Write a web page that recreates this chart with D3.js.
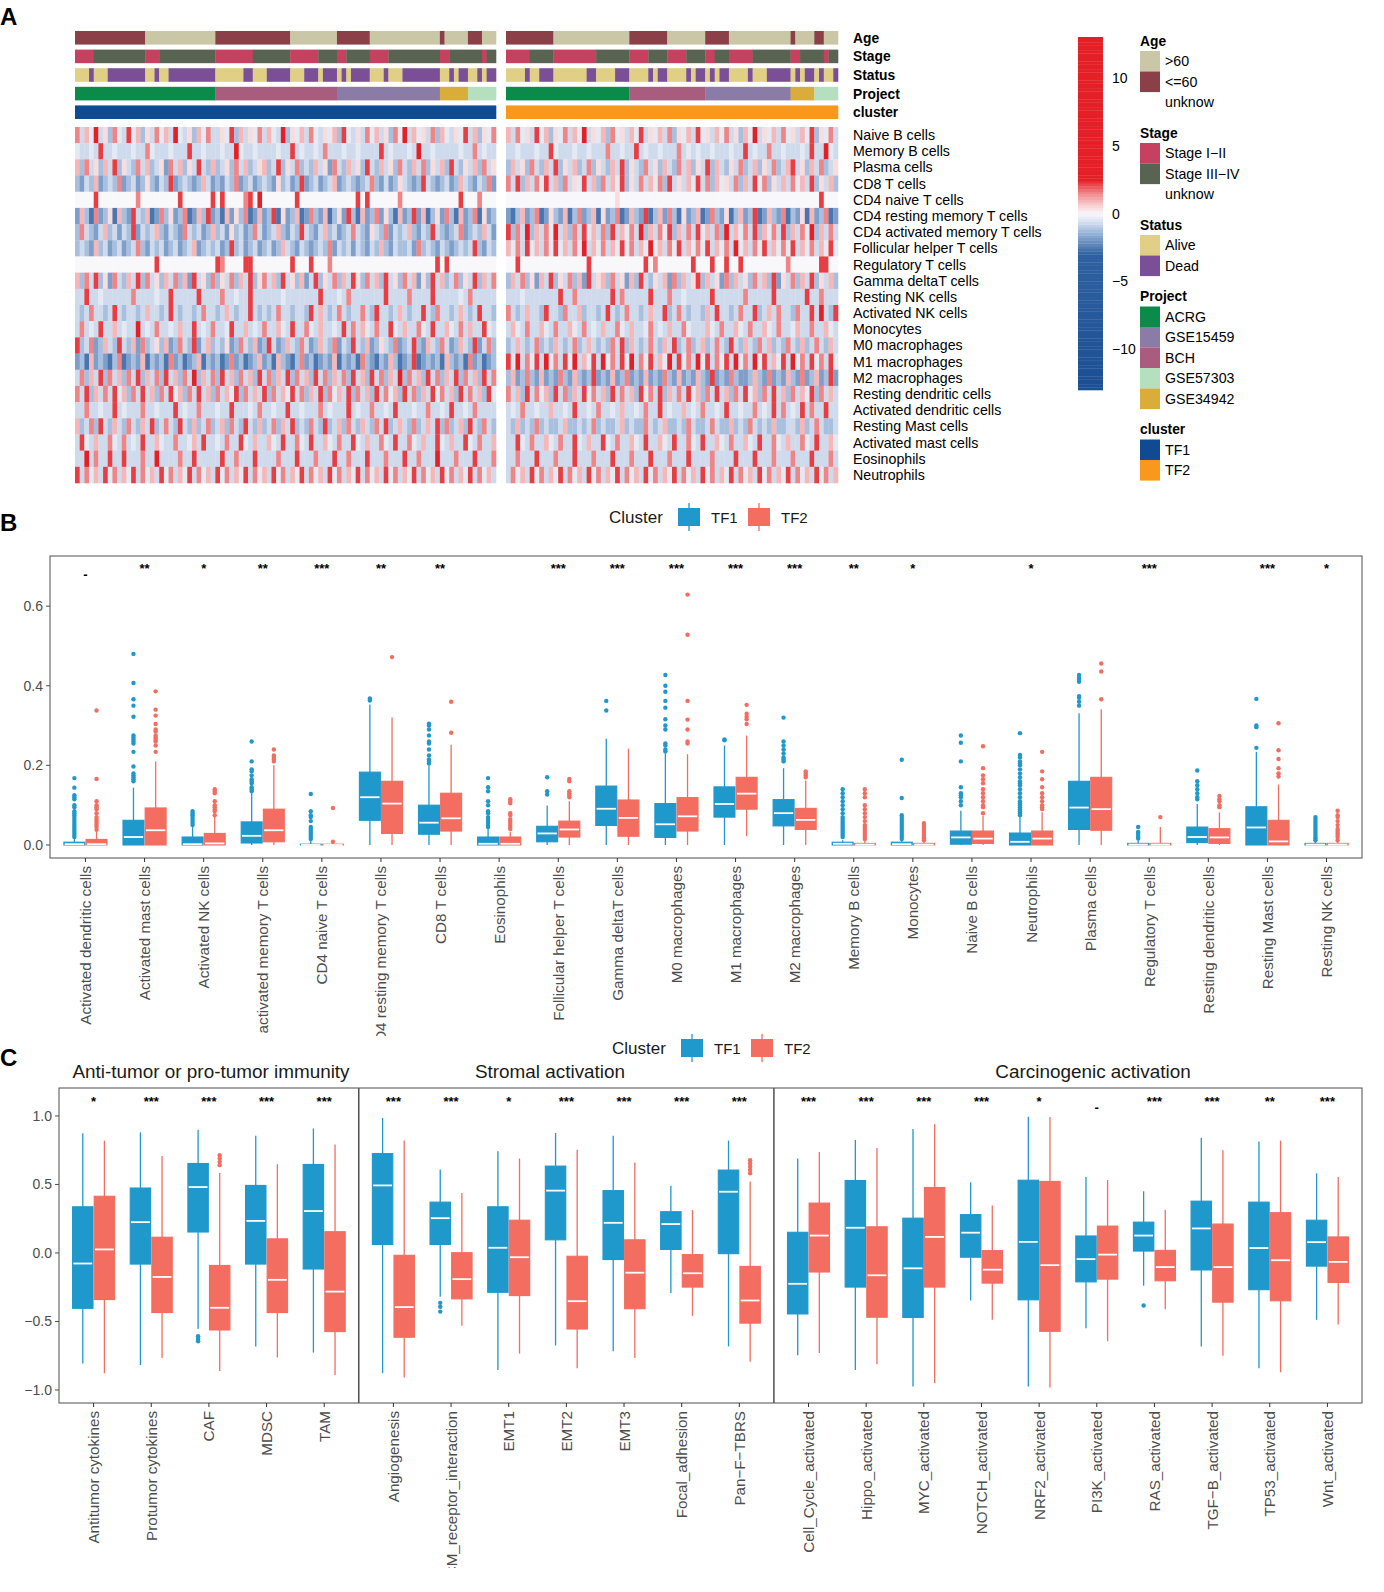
<!DOCTYPE html>
<html><head><meta charset="utf-8">
<script src="https://cdn.jsdelivr.net/npm/d3@7"></script>
<style>body{margin:0;background:#fff}svg{display:block}text{font-family:"Liberation Sans",Arial,sans-serif}</style>
</head><body><svg id="chart" width="1384" height="1592"></svg>
<script>
// ================= DATA =================
// --- Panel A heatmap: rows, and per-sample levels (estimated), TF1 block (90 cols) and TF2 block (70 cols)
const hmRows = ["Naive B cells","Memory B cells","Plasma cells","CD8 T cells","CD4 naive T cells","CD4 resting memory T cells","CD4 activated memory T cells","Follicular helper T cells","Regulatory T cells","Gamma deltaT cells","Resting NK cells","Activated NK cells","Monocytes","M0 macrophages","M1 macrophages","M2 macrophages","Resting dendritic cells","Activated dendritic cells","Resting Mast cells","Activated mast cells","Eosinophils","Neutrophils"];
// level codes: '.'=0, a..e = increasingly negative, 1..5 = increasingly positive
const levelValue = {'.':0,'a':-0.35,'b':-0.7,'c':-1.2,'d':-1.8,'e':-2.6,'1':0.4,'2':0.9,'3':1.5,'4':2.2,'5':3.5};
const hmLeft = [
"3b2a5b1c3a b4a2c1b3a2 b5ab1c2a3b b1a4c2b1a3 b2ab5c1a2b 3ab1a2c4ab 1b3a2b1c3a 5b2a1b3c2a b1a4b2c1a3",
"abbab4bbab bbabb3abbb abbb4bbabb babb5abbab bbbabb4bab bab3bbbabb abbbb4babb bab5bbabbb bbabb3babb",
"2c3b1c2b4c 1bc3b2cb1d 3b2c1b4bc2 cb1c3b2cb1 2cb4c1b3cb c2b1d3bc2b 1c4bc2b1c3 bc2b3c1b2c 4bc1b2c3b1",
"cdbc2dcbc3 dcbdc1cdbc 4dcbcdc2bd cdbc3dcbdc bcd1cbdc4d cbdcb2dcbc dcb3cdbdc1 bcdc4bcdcb dc2bcdbc3d",
"....4..... ...3...... ..4......4 .4....34.5 .......4.. .......... 4.4......3 .......... ..4...3...",
"d2ce3dc1e2 cd4bc2ed3c 1dc3ed2c4d ce2d1c3ed2 dc4e1dc2ed 3cd2ec1d4c e2dc3d1ce2 dc4d2ec1d3 ce2dc3e1dc",
"c3bcdb2cbd bc4dbcb2cd bcd3bcbdc2 cbd1cbdc3b dcb2cdbc4b cdb2cbdcb3 bcd1bc3dbc b2cdbc4bcd cb3dcbc2bd",
"cbcd2cbdcb dcb3cdbcbd cbdcb2dcbc bdc4cbdcbd cbdc2bcdbc dcbc3dbcbd bcdbc2cdbc cbd3cbcdbc dcbcb4cdbc",
".......... .......4.. .......... 43....44.. ......4... 4...3..... .......... .......4.4 ..........",
"2c3b4c1d3b c2b4c3b1c2 b3c2d4b1c3 c1b3c2b4c1 3b2c4b1c2d b4c1b3c2b4 1c3b2c4b1c 3b2d1c4b2c b3c1b4c2b3",
"bb4bbabbbb bb3bbbbabb 4bbbbb4bbb b3bbabb4bb bbbbabbbbb bb4bbbab3b bbbbbb4bbb b3bbbb4bbb bbab3bbbbb",
"bcb3bbcb4b cbbcb2bbcb 4bcbbcb3bb cb2bcbb4bc bcb3bbcbbc 4b2bcb3bcb b3bc4bbcb2 bcbb4bc3bb cb2bcb4bbc",
"b3bab4bb2b abb5bab3bb ab2bb4bab3 bba4bb2bab 3bb2ab4bb3 ab2bbab4b3 b2ab3bb4ab 2bb3ab4bb2 ab3b2bb4ab",
"4cb3dc2bc4 bc2d3cb1c2 dc3bc4db2c bc1dc3bc2d c4bdc2bc3b dc2bc3dbc4 bc2dc1bc3d cb4cd2bc3b dc2bc4db3c",
"dce2dcdec3 edcd2ecdce 3dcedc2ecd ced3dcedc2 dce2cdec3d cedcd2ecdc e3cdecd2ce dc4edcdce2 cdce3dcedc",
"b3c2b4c3b2 c3b4c2b3c4 b2c3b5c2b3 c4b2c3b2c4 b3c2b4c3b2 c4b3c2b3c4 b2c4b3c2b5 c3b2c4b3c2 b4c3b2c4b3",
"3b4c2b3b4a 2c3b4b2c3b 4a2c3b4b2c 3b2a4c3b2b 4c3b2a4b3c 2b4c3a2b4c 3b2c4b3a2c 4b3c2b4a3b 2c4b3b2c4a",
"bb3bbabb4b abbb3bbabb b4babb3bbb abb4bbbab3 bbabb4bbab bb3babbb4b abb3bbab4b bbabb3bbab 4bbab3bbbb",
"2cb3c4bc2b c3bc2b4cb3 bc4bc2cb3c b2c3bc4bc2 cb3c2b4cbc 3bc4cb2c3b c2bc3b4cb2 bc3cb2b4c3 cb2c4bc3bc",
"b4ab2bb3ab 3bab4bb2ab b3bba2b4bb ab3bb4ab2b b2ab4bb3ab 4bb2ab3bb4 ab2bb3ab4b b3ab2bb4ab 2bb4ab3bb2",
"bb5b3bb4bb 4bbb3bb5bb bb3bb4bbbb b4bb3bbb4b bbb3bbb4bb b3bbb4bb3b bb4bbb3bbb 4bb3bbb5bb b3bbb4bbb3",
"4b3a2b4a3b 2a4b3a2b4a 3b2a4b3a2b 4a3b2a4b3a 2b4a3b2a4b 3a2b4a3b2a 4b3a2b4a3b 2a4b3a2b4a 3b2a4b3a2b"
];
const hmRight = [
"2b3a1b4a2c 1a3b2a5b1a 2c3a1b2a4b 1a2b3c1a2b 4a1b2a3b1c 2a5b1a2b3a 1b2a4c1a3b",
"bbabbbabb4 abbbabbabb b3bbabb4ba bbabbb3bab abbabbbabb 4babb3bbab bbab4bb5ab",
"c2b1c3bc2b 4c1b2cb3c1 bc2b4c1bc3 b1c2bc3b2c 1b4c2bc1b3 cb2c1b3cb2 4b1c2b3cb1",
"3b4c2b3a4b 2c3b1a4b2c 3b2a4c1b3b 2a3c4b1b2a 4b3c2a1b3c 2b4a3c1b2b 3a2b4c1b2c",
".......... .......... ...1...... .......... .......... .......... ......4...",
"dec2dc3ed1 cd2ec3dc2e 1dc3ed2cd4 ec2d3ce1dc 2ed3cd1ec2 dc4ed2cd3e cd1e2dc3ed",
"4c3b5c2b3a 5b2c3b4a2b 3c4b2a3b5c 2b3a4c2b3b 4a2b3c5b2a 3b4c2a3b4c 2b3a5c2b3b",
"2a3b4a2b3a 4a2b3a5b2a 3b2a4a3b2a 5a2b3a4b2a 3a4b2a3b5a 2b3a4b2a3a 4b2a3b2a4a",
"..4....... .......4.. .........4 .3.......4 ...4..4..4 .........3 ......44..",
"c2b3c1d2b4 c1b3c2d4b1 2c3b1d2c4b c1b2d3c2b1 4c2b1d3c2b 1c3b2c4d1b 3c2b4c1b2c",
"bbbabbbbbb b4bb3bbbbb bb4b3bbbbb 4bbb3bbabb bbb4bbbbbb 3bbbbb4bbb bbb4bb3bbb",
"3bcb2bbc4b bc3bb2cbbc b4bcb3bbcb 2bb4cb3bcb bc2b4bbcb3 bb4cb2b3bb c3bb4b5bc4",
"b2ab3bb2ab 3bb2ab3bab 2bb3ab2bba 3bab2bb3ab bb2ab3bb2a b3bb2ab3bb a2bb3bb2ab",
"cb2bcb3cbc 2bcb3cb2bc bc3b4c2bcb 3bc2b4cb3c b2cb3bc4bc 2bc3b2cbc3 bc2cb3bc2b",
"4a5b3a4b5a 3b4a5b2a4b 5a3b4a5b3a 4b2a5b4a3b 5a4b3a4b5a 3b5a4b2a4b 5a3b4a3b4a",
"c2dc3cd2dc d3cd2cdc4d cd2dc3dcd2 dcd3cd2dcd 2cd4dcd3cd dc2cd3dcd2 cd3dc2dc4d",
"3b2c4b3a2c 4b3c2b4a3b 2c4b3b2c4a 3b4c2b3b4a 2c3b4b2c3b 4a2c3b4b2c 3b2a4c3b2b",
"bab3bbabb2 bbab4bbab3 bbab2bbab3 bb4babb2ba b3bbab4bba bb3bab4b3b ab4b3bb4bb",
"bc2cbc3cbc cb2ccbcb3c bccb2cbcc3 bcb2ccbc3b ccb3bcc2cb c3bcbc2ccb bc2cb3bccb",
"bb4ab3bb2a b3bb4ab2bb 4ab3bb2ab4 bb2ab4bb3a b4bb2ab3bb 2ab4bb3ab2 bb3ab4bb2a",
"bb3bbb4bbb 3bbb4bbb3b bb4bbb3bbb 4bbb3bbb4b bbb3bbbb4b bb4bbb3bbb 3bbb4bbb3b",
"b3a2b4a3b2 a4b3a2b4a3 b2a4b3a2b4 a3b2a4b3a2 b4a3b2a4b3 a2b4a3b2a4 b3a2b4a3b2"
];
// annotation runs [category, number of samples]
const annTracks = ["Age","Stage","Status","Project","cluster"];
const ageL = [["<=60",15],[">60",15],["<=60",16],[">60",10],["<=60",7],[">60",15],["<=60",1],[">60",5],["<=60",3],[">60",3]];
const ageR = [["<=60",10],[">60",16],["<=60",8],[">60",8],["<=60",5],[">60",13],["<=60",1],[">60",4],["<=60",2],[">60",3]];
const stageL = [["I",4],["III",11],["I",3],["III",12],["I",8],["III",8],["I",6],["III",4],["I",2],["III",5],["I",4],["III",11],["I",2],["III",7],["I",1],["III",2]];
const stageR = [["I",5],["III",5],["I",9],["III",7],["I",4],["III",4],["I",4],["III",4],["I",2],["III",3],["I",5],["III",8],["I",2],["III",5],["I",1],["III",2]];
const statusL = [["A",3],["D",1],["A",3],["D",8],["A",2],["D",1],["A",2],["D",10],["A",6],["D",2],["A",3],["D",5],["A",3],["D",3],["A",1],["D",3],["A",1],["D",1],["A",1],["D",4],["A",3],["D",1],["A",3],["D",8],["A",2],["D",1],["A",1],["D",2],["A",2],["D",1],["A",1],["D",2]];
const statusR = [["A",4],["D",1],["A",2],["D",3],["A",7],["D",2],["A",4],["D",3],["A",4],["D",1],["A",1],["D",2],["A",4],["D",1],["A",1],["D",2],["A",1],["D",1],["A",1],["D",2],["A",4],["D",1],["A",3],["D",5],["A",1],["D",1],["A",1],["D",2],["A",1],["D",1],["A",2],["D",1]];
const projectL = [["ACRG",30],["BCH",26],["GSE15459",22],["GSE34942",6],["GSE57303",6]];
const projectR = [["ACRG",26],["BCH",16],["GSE15459",18],["GSE34942",5],["GSE57303",5]];
const clusterL = [["TF1",90]];
const clusterR = [["TF2",70]];
const legendTicks = [10,5,0,-5,-10];
const legendGroups = [
  {title:"Age", items:[[">60",">60"],["<=60","<=60"],[null,"unknow"]]},
  {title:"Stage", items:[["I","Stage I\u2212II"],["III","Stage III\u2212IV"],[null,"unknow"]]},
  {title:"Status", items:[["A","Alive"],["D","Dead"]]},
  {title:"Project", items:[["ACRG","ACRG"],["GSE15459","GSE15459"],["BCH","BCH"],["GSE57303","GSE57303"],["GSE34942","GSE34942"]]},
  {title:"cluster", items:[["TF1","TF1"],["TF2","TF2"]]}
];

// --- Panel B: immune cell fractions, stats [lower whisker, Q1, median, Q3, upper whisker]
const bCats = ["Activated dendritic cells","Activated mast cells","Activated NK cells","CD4 activated memory T cells","CD4 naive T cells","CD4 resting memory T cells","CD8 T cells","Eosinophils","Follicular helper T cells","Gamma deltaT cells","M0 macrophages","M1 macrophages","M2 macrophages","Memory B cells","Monocytes","Naive B cells","Neutrophils","Plasma cells","Regulatory T cells","Resting dendritic cells","Resting Mast cells","Resting NK cells"];
const bSig = ["-","**","*","**","***","**","**","","***","***","***","***","***","**","*","","*","","***","","***","*"];
const bTF1 = [[0,0,0.002,0.007,0.016],[0,0,0.02,0.062,0.144],[0,0,0.002,0.02,0.045],[0,0.005,0.023,0.058,0.13],[0,0,0,0.002,0.01],[0,0.062,0.12,0.183,0.353],[0,0.027,0.056,0.1,0.2],[0,0,0.003,0.02,0.04],[0,0.008,0.029,0.047,0.099],[0,0.049,0.091,0.148,0.267],[0,0.019,0.052,0.104,0.23],[0,0.07,0.103,0.146,0.25],[0,0.048,0.08,0.114,0.193],[0,0,0.003,0.007,0.012],[0,0,0.002,0.007,0.012],[0,0.002,0.019,0.035,0.086],[0,0,0.008,0.03,0.07],[0,0.039,0.094,0.16,0.331],[0,0,0.001,0.004,0.012],[0,0.006,0.02,0.045,0.103],[0,0,0.044,0.096,0.234],[0,0,0.001,0.004,0.008]];
const bTF2 = [[0,0,0.002,0.014,0.033],[0,0,0.037,0.093,0.21],[0,0,0.004,0.029,0.07],[0,0.008,0.037,0.09,0.2],[0,0,0,0.002,0.004],[0,0.029,0.104,0.16,0.32],[0,0.035,0.067,0.13,0.252],[0,0,0.003,0.02,0.033],[0,0.02,0.039,0.06,0.11],[0,0.022,0.068,0.113,0.242],[0,0.035,0.072,0.119,0.228],[0.022,0.09,0.129,0.17,0.275],[0,0.039,0.063,0.092,0.162],[0,0,0.001,0.004,0.01],[0,0,0.001,0.004,0.008],[0,0.004,0.016,0.035,0.074],[0,0,0.016,0.035,0.082],[0,0.037,0.09,0.17,0.341],[0,0,0.001,0.004,0.045],[0,0.004,0.019,0.041,0.082],[0,0,0.009,0.062,0.152],[0,0,0.001,0.004,0.008]];
const bTF1Out = [
[0.02,0.025,0.03,0.035,0.04,0.045,0.05,0.055,0.06,0.065,0.07,0.075,0.08,0.085,0.095,0.1,0.115,0.12,0.125,0.144,0.168],
[0.16,0.165,0.17,0.175,0.18,0.197,0.234,0.255,0.26,0.265,0.27,0.275,0.322,0.35,0.366,0.407,0.48],
[0.05,0.055,0.06,0.065,0.07,0.075,0.08,0.085],
[0.135,0.14,0.145,0.155,0.16,0.165,0.175,0.185,0.19,0.21,0.26],
[0.015,0.02,0.025,0.03,0.035,0.04,0.045,0.06,0.07,0.075,0.085,0.128],
[0.363,0.368],
[0.205,0.21,0.215,0.225,0.24,0.255,0.26,0.275,0.29,0.3,0.305],
[0.045,0.05,0.055,0.06,0.065,0.07,0.08,0.085,0.1,0.11,0.135,0.145,0.168],
[0.127,0.135,0.17],
[0.338,0.362],
[0.235,0.24,0.25,0.255,0.29,0.3,0.316,0.345,0.362,0.385,0.4,0.427],
[0.263,0.265],
[0.21,0.215,0.22,0.23,0.24,0.25,0.26,0.32],
[0.02,0.025,0.03,0.035,0.04,0.045,0.05,0.055,0.06,0.065,0.07,0.08,0.09,0.1,0.11,0.12,0.13,0.14],
[0.015,0.02,0.025,0.03,0.035,0.04,0.045,0.05,0.055,0.06,0.065,0.07,0.075,0.118,0.214],
[0.1,0.11,0.12,0.125,0.13,0.145,0.21,0.257,0.275],
[0.075,0.08,0.085,0.09,0.095,0.1,0.105,0.11,0.12,0.13,0.14,0.15,0.155,0.16,0.17,0.18,0.19,0.2,0.205,0.21,0.22,0.226,0.281],
[0.35,0.36,0.37,0.374,0.41,0.415,0.42,0.427],
[0.016,0.02,0.025,0.03,0.033,0.045],
[0.115,0.12,0.13,0.14,0.15,0.16,0.187],
[0.244,0.296,0.3,0.367],
[0.012,0.016,0.02,0.025,0.03,0.035,0.04,0.045,0.05,0.055,0.06,0.065,0.07]
];
const bTF2Out = [
[0.038,0.045,0.05,0.055,0.06,0.065,0.07,0.08,0.09,0.095,0.1,0.11,0.166,0.338],
[0.234,0.25,0.26,0.265,0.27,0.275,0.285,0.29,0.304,0.325,0.34,0.386],
[0.075,0.085,0.09,0.095,0.1,0.11,0.13,0.135,0.14],
[0.21,0.215,0.22,0.225,0.24],
[0.008,0.093],
[0.472],
[0.282,0.36],
[0.04,0.045,0.05,0.055,0.06,0.065,0.075,0.08,0.105,0.11,0.115],
[0.12,0.125,0.13,0.135,0.16,0.166],
[],
[0.255,0.26,0.29,0.315,0.362,0.528,0.629],
[0.304,0.316,0.322,0.33,0.352],
[0.17,0.175,0.18,0.185],
[0.015,0.02,0.025,0.03,0.035,0.04,0.045,0.05,0.06,0.07,0.08,0.09,0.1,0.12,0.13,0.14],
[0.012,0.016,0.02,0.025,0.03,0.035,0.04,0.045,0.05,0.055],
[0.08,0.095,0.1,0.11,0.12,0.13,0.14,0.155,0.165,0.175,0.193,0.248],
[0.09,0.095,0.1,0.11,0.12,0.13,0.145,0.165,0.185,0.234],
[0.366,0.436,0.456],
[0.07],
[0.095,0.1,0.11,0.115,0.123],
[0.172,0.18,0.193,0.216,0.238,0.306],
[0.012,0.02,0.025,0.03,0.035,0.04,0.05,0.06,0.07,0.075,0.086]
];
const bTicks = [0,0.2,0.4,0.6];

// --- Panel C: signature scores
const cFacets = ["Anti-tumor or pro-tumor immunity","Stromal activation","Carcinogenic activation"];
const cFacetSizes = [5,7,10];
const cCats = ["Antitumor cytokines","Protumor cytokines","CAF","MDSC","TAM","Angiogenesis","ECM_receptor_interaction","EMT1","EMT2","EMT3","Focal_adhesion","Pan\u2212F\u2212TBRS","Cell_Cycle_activated","Hippo_activated","MYC_activated","NOTCH_activated","NRF2_activated","PI3K_activated","RAS_activated","TGF\u2212B_activated","TP53_activated","Wnt_activated"];
const cSig = ["*","***","***","***","***","***","***","*","***","***","***","***","***","***","***","***","*","-","***","***","**","***"];
const cTF1 = [[-0.806,-0.404,-0.077,0.337,0.873],[-0.818,-0.081,0.225,0.474,0.88],[-0.555,0.153,0.481,0.653,0.9],[-0.682,-0.081,0.234,0.493,0.856],[-0.727,-0.117,0.306,0.646,0.909],[-0.878,0.062,0.493,0.725,0.986],[-0.32,0.062,0.254,0.371,0.61],[-0.854,-0.287,0.038,0.337,0.742],[-0.675,0.096,0.455,0.634,0.876],[-0.718,-0.048,0.22,0.455,0.856],[-0.292,0.026,0.211,0.301,0.49],[-0.682,-0.005,0.447,0.605,0.82],[-0.746,-0.445,-0.225,0.151,0.689],[-0.854,-0.249,0.184,0.529,0.825],[-0.974,-0.471,-0.112,0.254,0.904],[-0.347,-0.031,0.148,0.28,0.517],[-0.974,-0.342,0.081,0.531,0.995],[-0.55,-0.211,-0.045,0.124,0.555],[-0.239,0.014,0.127,0.225,0.45],[-0.682,-0.124,0.179,0.378,0.84],[-0.842,-0.268,0.036,0.371,0.813],[-0.488,-0.096,0.079,0.239,0.581]];
const cTF2 = [[-0.878,-0.34,0.026,0.414,0.82],[-0.766,-0.435,-0.175,0.115,0.708],[-0.861,-0.562,-0.4,-0.091,0.584],[-0.763,-0.435,-0.196,0.103,0.648],[-0.89,-0.574,-0.282,0.155,0.792],[-0.909,-0.615,-0.395,-0.017,0.82],[-0.531,-0.335,-0.191,0.002,0.438],[-0.734,-0.311,-0.031,0.239,0.689],[-0.842,-0.555,-0.352,-0.024,0.754],[-0.766,-0.407,-0.144,0.096,0.66],[-0.459,-0.249,-0.148,-0.012,0.313],[-0.794,-0.512,-0.347,-0.098,0.522],[-0.73,-0.139,0.127,0.364,0.737],[-0.813,-0.469,-0.163,0.191,0.766],[-0.95,-0.249,0.117,0.478,0.94],[-0.488,-0.22,-0.122,0.017,0.347],[-0.981,-0.572,-0.089,0.522,0.993],[-0.644,-0.191,-0.012,0.196,0.533],[-0.411,-0.203,-0.103,0.019,0.316],[-0.751,-0.359,-0.103,0.211,0.749],[-0.871,-0.349,-0.053,0.294,0.82],[-0.522,-0.215,-0.065,0.117,0.555]];
const cTF1Out = [[],[],[-0.608,-0.627,-0.644],[],[],[],[-0.364,-0.392,-0.428],[],[],[],[],[],[],[],[],[],[],[],[-0.383],[],[],[]];
const cTF2Out = [[],[],[0.713,0.689,0.665,0.641],[],[],[],[],[],[],[],[],[0.677,0.653,0.629,0.605,0.581],[],[],[],[],[],[],[],[],[],[]];
const cTicks = [-1,-0.5,0,0.5,1];

// ================= STYLE / LAYOUT =================
const BLUE = "#1f98cb", RED = "#f36d60";
const annColors = {">60":"#c9c7a6","<=60":"#8b4047","I":"#c6405f","III":"#586352","A":"#e0cf84","D":"#7b4f98",
  "ACRG":"#0b8a4a","GSE15459":"#8b7ba7","BCH":"#a95c7e","GSE57303":"#b6dfbf","GSE34942":"#daac3a","TF1":"#0e4b92","TF2":"#f8981c"};
const cTitleX = [211,550,1093];
const svg = d3.select("#chart");
const fmt = v => (v < 0 ? "\u2212" : "") + Math.abs(v).toFixed(1);

// ================= PANEL A =================
svg.append("text").attr("x",0).attr("y",25).attr("font-size",24).attr("font-weight","bold").text("A");
const cScale = d3.scaleLinear()
  .domain([-13,-3,-1.5,-0.6,0,0.6,1.5,2.5,13])
  .range(["#1b4e93","#2f61a1","#93afd5","#d6e0ef","#f8f8fb","#f8d0d1","#f08587","#e41f26","#e41f26"]).clamp(true);
const nL = 90, nR = 70;
const parseRow = (s,n) => { const t = s.replace(/\s/g,"").split("").map(c => levelValue[c] ?? 0); while (t.length < n) t.push(-0.35); return t.slice(0,n); };
const xL = d3.scaleBand().domain(d3.range(nL)).range([75,496]);
const xR = d3.scaleBand().domain(d3.range(nR)).range([506,838]);
const hmY = d3.scaleBand().domain(hmRows).range([127,483]);
const gH = svg.append("g");
hmRows.forEach((r,i) => {
  [[parseRow(hmLeft[i],nL),xL],[parseRow(hmRight[i],nR),xR]].forEach(([vals,xs]) => {
    gH.selectAll(null).data(vals).enter().append("rect")
      .attr("x",(d,j)=>xs(j)).attr("y",hmY(r)).attr("width",xs.bandwidth()+0.3).attr("height",hmY.bandwidth()+0.3)
      .attr("fill",d=>cScale(d));
  });
  gH.append("text").attr("x",853).attr("y",hmY(r)+hmY.bandwidth()/2+5).attr("font-size",14.2).text(r);
});
// annotation tracks
const annY = d3.scaleBand().domain(annTracks).range([31,119]).paddingInner(0.27);
const trackData = {Age:[ageL,ageR],Stage:[stageL,stageR],Status:[statusL,statusR],Project:[projectL,projectR],cluster:[clusterL,clusterR]};
annTracks.forEach(tr => {
  [[trackData[tr][0],xL],[trackData[tr][1],xR]].forEach(([runs,xs]) => {
    let s = 0;
    runs.forEach(([cat,cnt]) => {
      const x0 = xs(s), x1 = xs(s+cnt-1)+xs.bandwidth();
      gH.append("rect").attr("x",x0).attr("y",annY(tr)).attr("width",x1-x0+0.3).attr("height",annY.bandwidth()).attr("fill",annColors[cat]);
      s += cnt;
    });
  });
  gH.append("text").attr("x",853).attr("y",annY(tr)+annY.bandwidth()/2+5).attr("font-size",13.8).attr("font-weight","bold").text(tr);
});
// colour legend
const legY = d3.scaleLinear().domain([-13,13]).range([390,37]);
const steps = d3.range(-13,13,0.2);
gH.selectAll(null).data(steps).enter().append("rect")
  .attr("x",1078).attr("width",25).attr("y",d=>legY(d+0.2)).attr("height",d=>legY(d)-legY(d+0.2)+0.3)
  .attr("fill",d=>cScale(d+0.1));
legendTicks.forEach(t => gH.append("text").attr("x",1112).attr("y",legY(t)+5).attr("font-size",14).text(t<0?"\u2212"+Math.abs(t):t));
// discrete legends
let legTop = 32;
legendGroups.forEach(gr => {
  gH.append("text").attr("x",1140).attr("y",legTop+13.5).attr("font-size",13.8).attr("font-weight","bold").text(gr.title);
  const k0 = legTop + 19;
  gr.items.forEach(([key,label],j) => {
    const ky = k0 + j*20.5;
    if (key) gH.append("rect").attr("x",1140).attr("y",ky).attr("width",20).attr("height",20.6).attr("fill",annColors[key]);
    gH.append("text").attr("x",1165).attr("y",ky+15).attr("font-size",14.2).text(label);
  });
  legTop = k0 + gr.items.length*20.5 + 11.5;
});

// ================= BOXPLOT HELPER =================
function drawBoxes(g, cats, xs, unit, y, s1, s2, o1, o2) {
  const bw = unit*0.375;
  cats.forEach((cat,i) => {
    [[s1,o1,BLUE,-bw/2],[s2,o2,RED,bw/2]].forEach(([st,outs,col,off]) => {
      const [lo,q1,med,q3,hi] = st[i];
      const cx = xs(cat)+off;
      g.append("line").attr("x1",cx).attr("x2",cx).attr("y1",y(hi)).attr("y2",y(q3)).attr("stroke",col).attr("stroke-width",1.3);
      g.append("line").attr("x1",cx).attr("x2",cx).attr("y1",y(q1)).attr("y2",y(lo)).attr("stroke",col).attr("stroke-width",1.3);
      g.append("rect").attr("x",cx-bw/2+0.6).attr("width",bw-1.2).attr("y",y(q3)).attr("height",Math.max(y(q1)-y(q3),0.1))
        .attr("fill",col).attr("stroke",col).attr("stroke-width",1.1);
      g.append("line").attr("x1",cx-bw/2+1.4).attr("x2",cx+bw/2-1.4).attr("y1",y(med)).attr("y2",y(med)).attr("stroke","#fff").attr("stroke-width",1.8);
      g.selectAll(null).data(outs[i]).enter().append("circle").attr("cx",cx).attr("cy",d=>y(d)).attr("r",2.2).attr("fill",col);
    });
  });
}
function legend(x, yb) {
  const g = svg.append("g");
  g.append("text").attr("x",x).attr("y",yb).attr("font-size",17).attr("fill","#1a1a1a").text("Cluster");
  [["TF1",BLUE,x+69],["TF2",RED,x+139]].forEach(([lab,col,kx]) => {
    g.append("line").attr("x1",kx+11).attr("x2",kx+11).attr("y1",yb-20).attr("y2",yb+8).attr("stroke",col).attr("stroke-width",1.3);
    g.append("rect").attr("x",kx).attr("y",yb-15).attr("width",22).attr("height",18).attr("fill",col);
    g.append("text").attr("x",kx+33).attr("y",yb).attr("font-size",15).attr("fill","#1a1a1a").text(lab);
  });
}

// ================= PANEL B =================
svg.append("text").attr("x",0).attr("y",531).attr("font-size",24).attr("font-weight","bold").text("B");
legend(609,523);
const bx0 = 50, bx1 = 1362, by0 = 556, by1 = 858;
const xB = d3.scalePoint().domain(bCats).range([bx0,bx1]).padding(0.6);
const yB = d3.scaleLinear().domain([-0.0327,0.726]).range([by1,by0]);
const gB = svg.append("g");
drawBoxes(gB, bCats, xB, xB.step(), yB, bTF1, bTF2, bTF1Out, bTF2Out);
gB.append("rect").attr("x",bx0).attr("y",by0).attr("width",bx1-bx0).attr("height",by1-by0).attr("fill","none").attr("stroke","#5e5e5e").attr("stroke-width",1.1);
bCats.forEach((c,i) => {
  if (!bSig[i]) return;
  gB.append("text").attr("x",xB(c)).attr("y",yB(0.683)+(bSig[i]==="-"?6:0)).attr("text-anchor","middle").attr("font-size",13).attr("font-weight","bold").text(bSig[i]);
});
bTicks.forEach(t => {
  gB.append("line").attr("x1",bx0-4).attr("x2",bx0).attr("y1",yB(t)).attr("y2",yB(t)).attr("stroke","#4d4d4d");
  gB.append("text").attr("x",bx0-7).attr("y",yB(t)+5).attr("text-anchor","end").attr("font-size",14).attr("fill","#4d4d4d").text(t.toFixed(1));
});
svg.append("clipPath").attr("id","clipB").append("rect").attr("x",0).attr("y",by1).attr("width",1384).attr("height",1036-by1);
const gBx = svg.append("g").attr("clip-path","url(#clipB)");
bCats.forEach(c => {
  gBx.append("line").attr("x1",xB(c)).attr("x2",xB(c)).attr("y1",by1).attr("y2",by1+4).attr("stroke","#333");
  gBx.append("text").attr("transform",`translate(${xB(c)},${by1+8}) rotate(-90)`).attr("dy","0.36em").attr("text-anchor","end")
    .attr("font-size",15.2).attr("fill","#4d4d4d").text(c);
});

// ================= PANEL C =================
svg.append("text").attr("x",0).attr("y",1066).attr("font-size",24).attr("font-weight","bold").text("C");
legend(612,1054);
const cx0 = 59, cx1 = 1362, cy0 = 1088, cy1 = 1403;
const yC = d3.scaleLinear().domain([-1.095,1.204]).range([cy1,cy0]);
const unitC = (cx1-cx0)/d3.sum(cFacetSizes,n=>n+0.2);
const gC = svg.append("g");
svg.append("clipPath").attr("id","clipC").append("rect").attr("x",0).attr("y",cy1).attr("width",1384).attr("height",1568-cy1);
const gCx = svg.append("g").attr("clip-path","url(#clipC)");
let start = 0, fx = cx0;
cFacets.forEach((f,k) => {
  const n = cFacetSizes[k];
  const cats = cCats.slice(start,start+n);
  const fw = (n+0.2)*unitC;
  const xs = d3.scalePoint().domain(cats).range([fx,fx+fw]).padding(0.6);
  const idx = d3.range(start,start+n);
  drawBoxes(gC, cats, xs, unitC, yC, idx.map(i=>cTF1[i]), idx.map(i=>cTF2[i]), idx.map(i=>cTF1Out[i]), idx.map(i=>cTF2Out[i]));
  cats.forEach((c,j) => {
    const s = cSig[start+j];
    gC.append("text").attr("x",xs(c)).attr("y",yC(1.124)+7+(s==="-"?6:0)).attr("text-anchor","middle").attr("font-size",13).attr("font-weight","bold").text(s);
    gCx.append("line").attr("x1",xs(c)).attr("x2",xs(c)).attr("y1",cy1).attr("y2",cy1+4).attr("stroke","#333");
    gCx.append("text").attr("transform",`translate(${xs(c)},${cy1+8}) rotate(-90)`).attr("dy","0.36em").attr("text-anchor","end")
      .attr("font-size",15.2).attr("fill","#4d4d4d").text(c);
  });
  gC.append("text").attr("x",cTitleX[k]).attr("y",cy0-10).attr("text-anchor","middle").attr("font-size",18.9).attr("fill","#1a1a1a").text(f);
  if (k>0) gC.append("line").attr("x1",fx).attr("x2",fx).attr("y1",cy0).attr("y2",cy1).attr("stroke","#222").attr("stroke-width",1.2);
  start += n; fx += fw;
});
gC.append("rect").attr("x",cx0).attr("y",cy0).attr("width",cx1-cx0).attr("height",cy1-cy0).attr("fill","none").attr("stroke","#5e5e5e").attr("stroke-width",1.1);
cTicks.forEach(t => {
  gC.append("line").attr("x1",cx0-4).attr("x2",cx0).attr("y1",yC(t)).attr("y2",yC(t)).attr("stroke","#4d4d4d");
  gC.append("text").attr("x",cx0-7).attr("y",yC(t)+5).attr("text-anchor","end").attr("font-size",14).attr("fill","#4d4d4d").text(fmt(t));
});
</script></body></html>
